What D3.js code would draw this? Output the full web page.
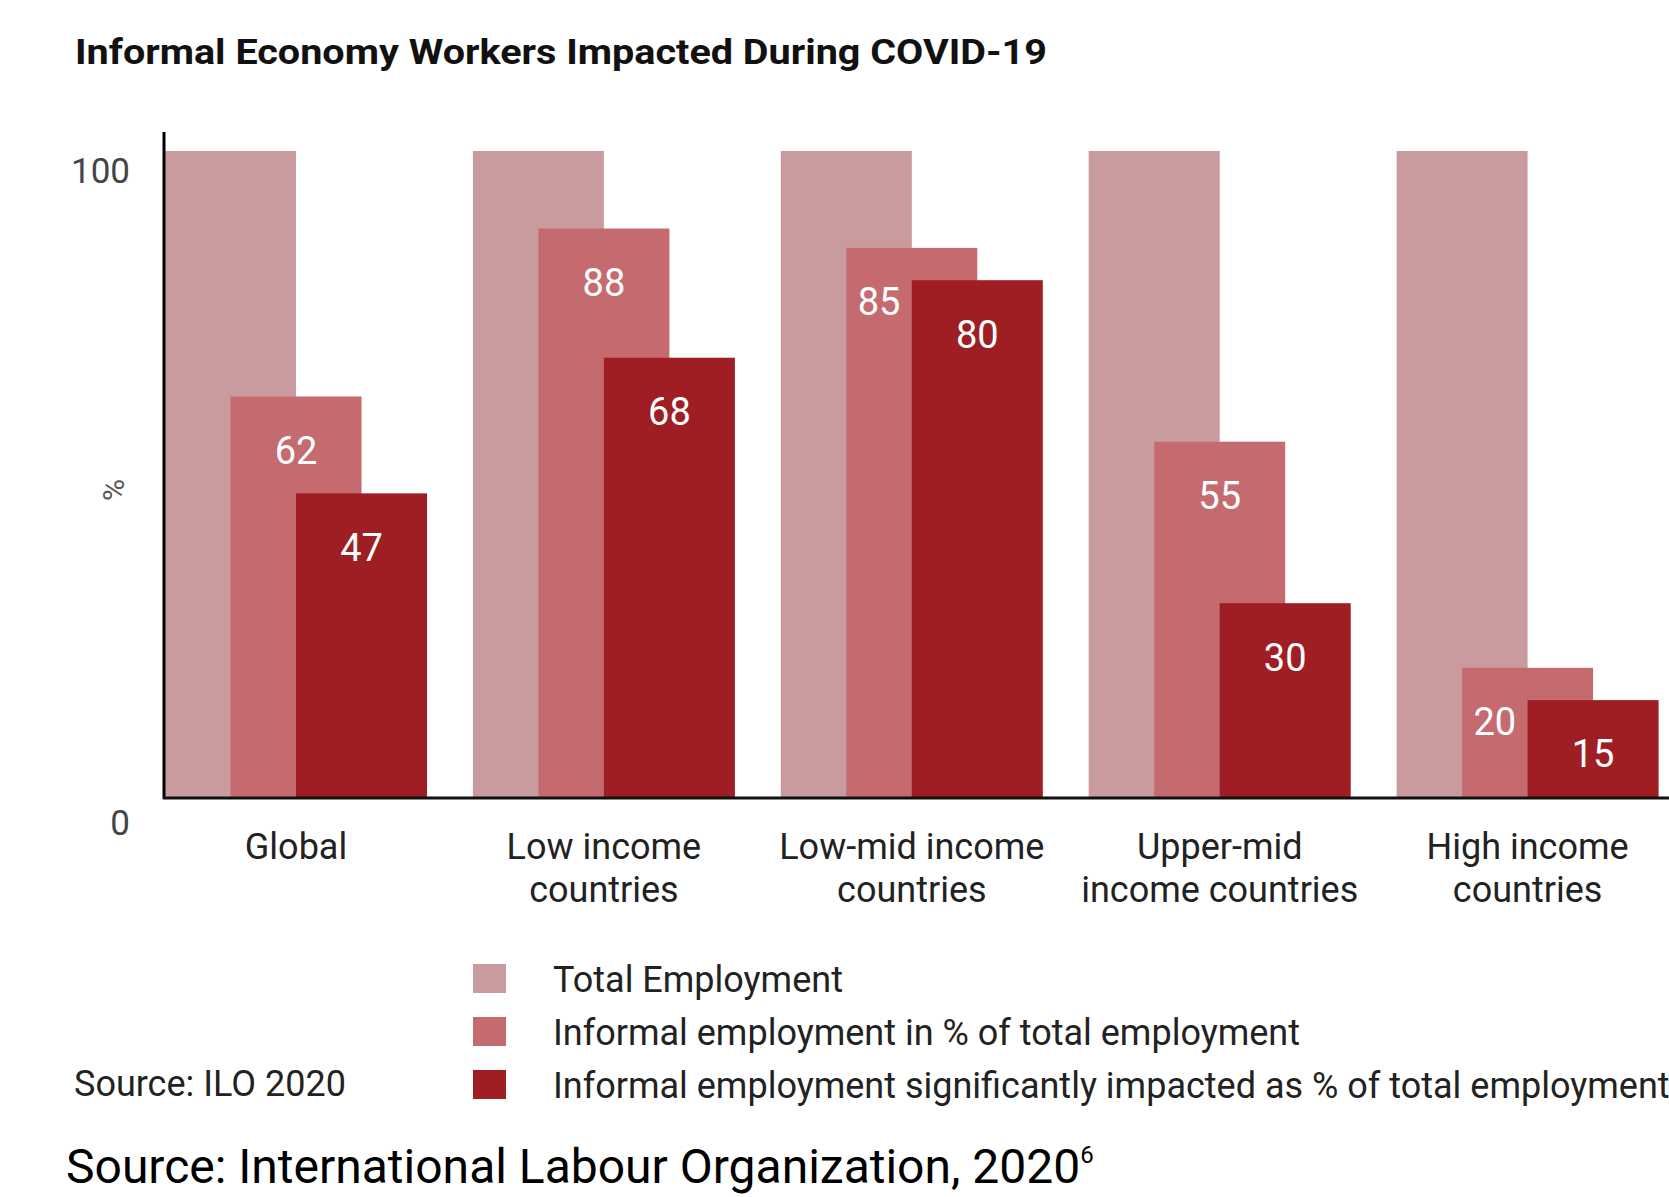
<!DOCTYPE html>
<meta charset="utf-8">
<script src="https://cdn.jsdelivr.net/npm/d3@7"></script>
<style>
body { margin: 0; background: #fff; }
text { font-family: Roboto, "Noto Sans", sans-serif; }
</style>
<body>
<script>

// data
var categories = ["Global", "Low income countries", "Low-mid income countries", "Upper-mid income countries", "High income countries"];
var categoryLines = [["Global"], ["Low income", "countries"], ["Low-mid income", "countries"], ["Upper-mid", "income countries"], ["High income", "countries"]];
var series = ["Total Employment", "Informal employment in % of total employment", "Informal employment significantly impacted as % of total employment"];
var totalEmployment = [100, 100, 100, 100, 100];
var informalEmployment = [62, 88, 85, 55, 20];
var informalImpacted = [47, 68, 80, 30, 15];
var yTicks = [0, 100];
var colors = ["#CA9B9E", "#C56B70", "#9E1E24"];

var width = 1669,
    height = 1197;

var svg = d3.select("body").append("svg")
    .attr("width", width)
    .attr("height", height);

svg.append("text")
    .attr("x", 75)
    .attr("y", 64)
    .style("font-size", "35px")
    .style("font-weight", "bold")
    .attr("fill", "#111")
    .attr("textLength", 972)
    .attr("lengthAdjust", "spacingAndGlyphs")
    .text("Informal Economy Workers Impacted During COVID-19");

var x0 = d3.scaleBand()
    .domain(categories)
    .range([165, 1658.6])
    .paddingInner(0.149)
    .paddingOuter(0);

var bw = x0.bandwidth();

var x1 = d3.scaleLinear()
    .domain([0, 1])
    .range([0, bw / 4]);

var y = d3.scaleLinear()
    .domain([0, 100])
    .range([797, 151]);

var rows = categories.map(function(c, i) {
  return { cat: c, vals: [totalEmployment[i], informalEmployment[i], informalImpacted[i]] };
});

var groups = svg.selectAll(".grp")
    .data(rows)
    .enter().append("g")
    .attr("class", "grp")
    .attr("transform", function(d) { return "translate(" + x0(d.cat) + ",0)"; });

groups.selectAll("rect")
    .data(function(d) { return d.vals; })
    .enter().append("rect")
    .attr("x", function(d, i) { return x1(i); })
    .attr("y", function(d) { return y(d); })
    .attr("width", bw / 2)
    .attr("height", function(d) { return y(0) - y(d); })
    .attr("fill", function(d, i) { return colors[i]; });

// value labels (informal + impacted)
var labOff = 54;
groups.each(function(d) {
  var g = d3.select(this);
  var inf = d.vals[1], imp = d.vals[2];
  var covered = y(imp) < y(inf) + labOff + 20;
  g.append("text")
    .attr("x", covered ? x1(1) + bw / 8 : x1(1) + bw / 4)
    .attr("y", y(inf) + labOff)
    .attr("dy", "0.35em")
    .attr("text-anchor", "middle")
    .attr("fill", "#fff")
    .style("font-size", "38px")
    .text(inf);
  g.append("text")
    .attr("x", x1(2) + bw / 4)
    .attr("y", y(imp) + labOff)
    .attr("dy", "0.35em")
    .attr("text-anchor", "middle")
    .attr("fill", "#fff")
    .style("font-size", "38px")
    .text(imp);
});

// y axis: labels only, line drawn by hand
var yAxis = svg.append("g")
    .attr("transform", "translate(164,0)")
    .call(d3.axisLeft(y).tickValues(yTicks).tickSize(0).tickPadding(34));
yAxis.select(".domain").remove();
yAxis.selectAll("text")
    .attr("transform", function(d) { return "translate(0," + (d === 0 ? 26 : 20) + ")"; })
    .attr("fill", "#444")
    .style("font-size", "35px")
    .style("font-family", "Roboto, sans-serif");

svg.append("text")
    .attr("transform", "translate(124,490) rotate(-90)")
    .attr("text-anchor", "middle")
    .attr("fill", "#555")
    .style("font-size", "30px")
    .text("%");

svg.append("line")
    .attr("x1", 164).attr("x2", 164)
    .attr("y1", 132).attr("y2", 799)
    .attr("stroke", "#000")
    .attr("stroke-width", 3);

svg.append("line")
    .attr("x1", 163).attr("x2", width)
    .attr("y1", 798).attr("y2", 798)
    .attr("stroke", "#111")
    .attr("stroke-width", 3);

// category labels
var xAxis = svg.append("g")
    .attr("transform", "translate(0,800)")
    .call(d3.axisBottom(x0).tickSize(0).tickFormat(""));
xAxis.select(".domain").remove();
xAxis.selectAll(".tick").each(function(c, i) {
  var t = d3.select(this).append("text")
      .attr("text-anchor", "middle")
      .attr("fill", "#222")
      .style("font-size", "36px")
      .style("font-family", "Roboto, sans-serif");
  categoryLines[i].forEach(function(line, k) {
    t.append("tspan")
      .attr("x", 0)
      .attr("y", 59 + k * 43)
      .text(line);
  });
});

// legend
var legend = svg.append("g")
    .attr("transform", "translate(473,979)");

series.forEach(function(s, i) {
  legend.append("rect")
    .attr("x", 0)
    .attr("y", i * 53 - 15)
    .attr("width", 33)
    .attr("height", 29)
    .attr("fill", colors[i]);
  legend.append("text")
    .attr("x", 80)
    .attr("y", i * 53)
    .attr("dy", "0.35em")
    .attr("fill", "#222")
    .style("font-size", "36px")
    .text(s);
});

svg.append("text")
    .attr("x", 74)
    .attr("y", 1083)
    .attr("dy", "0.35em")
    .attr("fill", "#222")
    .style("font-size", "36px")
    .text("Source: ILO 2020");

var src = svg.append("text")
    .attr("x", 66)
    .attr("y", 1183)
    .attr("fill", "#000")
    .style("font-size", "48px")
    .text("Source: International Labour Organization, 2020");
src.append("tspan")
    .attr("dy", -20)
    .style("font-size", "24px")
    .text("6");

</script>
</body>
</html>
